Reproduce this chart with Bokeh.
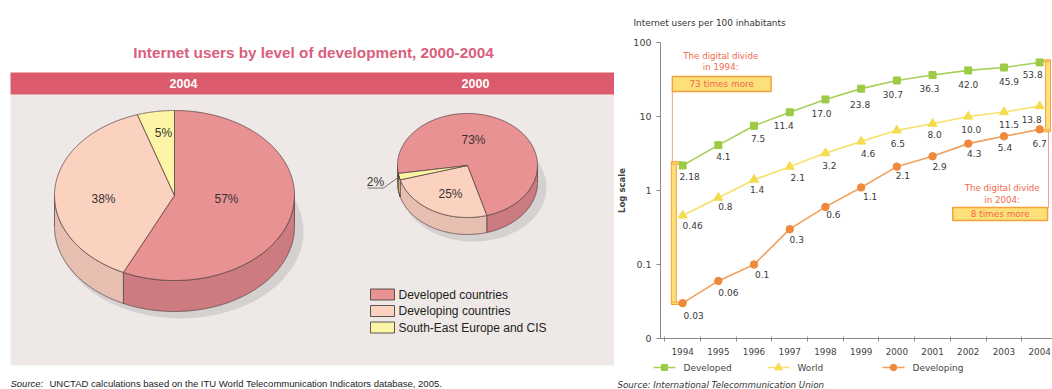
import numpy as np
from bokeh.plotting import figure
from bokeh.models import Range1d, FixedTicker, CustomJSTickFormatter
from bokeh.layouts import row, column
from bokeh.embed import file_html
from bokeh.resources import INLINE
from bokeh.core.properties import value

# ---------------- data ----------------
pie_groups = ["Developed countries", "Developing countries", "South-East Europe and CIS"]
share_2004 = [57, 38, 5]
share_2000 = [73, 25, 2]
pie_years = ["2004", "2000"]

years = list(range(1994, 2005))
developed = [2.18, 4.1, 7.5, 11.4, 17.0, 23.8, 30.7, 36.3, 42.0, 45.9, 53.8]
world = [0.46, 0.8, 1.4, 2.1, 3.2, 4.6, 6.5, 8.0, 10.0, 11.5, 13.8]
developing = [0.03, 0.06, 0.1, 0.3, 0.6, 1.1, 2.1, 2.9, 4.3, 5.4, 6.7]
series_names = ["Developed", "World", "Developing"]
y_ticks = [0.01, 0.1, 1, 10, 100]

# ---------------- styles / layout ----------------
TOP_COL = ["#e99293", "#fbd1bf", "#fbf5a5"]
SIDE_COL = ["#cc7b80", "#e7bfb1", "#e2da8c"]
OUTLINE = "#5b4646"
LFONT = value("Liberation Sans")
RF = "DejaVu Sans"
RFONT = value(RF)

# value-label pixel offsets (position only)
dev_dx = [7, 5, 4, -6, -4, -1, -4, -3, 0, 5, -7]
dev_dy = [11, 11, 13, 13, 14, 16, 14, 13, 14, 14, 12]
wld_dx = [10, 7, 3, 8, 4, 7, 1, 2, 3, 5, -8]
wld_dy = [10, 9, 10, 11, 12, 12, 13, 11, 13, 12, 13]
dvg_dx = [11, 10, 8, 7, 8, 9, 6, 7, 6, 1, 0]
dvg_dy = [12, 12, 10, 10, 8, 9, 9, 10, 10, 11, 14]

W1, H = 614, 389
W2 = 1052 - W1


def blank_fig(w, h):
    f = figure(width=w, height=h, x_range=Range1d(0, w), y_range=Range1d(h, 0),
               output_backend="svg", toolbar_location=None, min_border=0, title=None,
               x_axis_location=None, y_axis_location=None)
    f.grid.visible = False
    f.outline_line_color = None
    f.background_fill_color = "white"
    f.border_fill_color = "white"
    f.frame_align = False
    return f


# ================= left panel =================
p1 = blank_fig(W1, H)
p1.quad(left=[10], right=[W1], top=[94], bottom=[365], fill_color="#eee9e7", line_color=None)
p1.quad(left=[10], right=[W1], top=[72], bottom=[94], fill_color="#db5a6b", line_color=None)
p1.text(x=[313], y=[52], text=["Internet users by level of development, 2000-2004"],
        text_font=LFONT, text_font_style="bold", text_font_size="15.3px",
        text_color="#d9607c", text_align="center", text_baseline="middle")
p1.text(x=[183, 475], y=[83, 83], text=pie_years, text_font=LFONT, text_font_style="bold",
        text_font_size="12.5px", text_color="white", text_align="center", text_baseline="middle")


def draw_pie(p, shares, cx, cy, rx, ry, depth, start):
    total = float(sum(shares))
    angles = start + 360.0 * np.cumsum([0] + list(shares)) / total
    p.ellipse(x=[cx + 6], y=[cy + depth + 5], width=[2 * rx + 6], height=[2 * ry + 4],
              fill_color="#cbc6c6", fill_alpha=0.7, line_color=None)
    sx, sy, sc = [], [], []
    for i in range(len(shares)):
        th = np.linspace(angles[i], angles[i + 1], 1200)
        idx = np.where(np.cos(np.radians(th)) <= 0)[0]
        if len(idx) == 0:
            continue
        for r in np.split(idx, np.where(np.diff(idx) != 1)[0] + 1):
            if len(r) < 2:
                continue
            t = np.radians(th[r])
            xs = cx + rx * np.sin(t)
            ys = cy - ry * np.cos(t)
            sx.append(np.concatenate([xs, xs[::-1]]))
            sy.append(np.concatenate([ys, ys[::-1] + depth]))
            sc.append(SIDE_COL[i])
    p.patches(sx, sy, fill_color=sc, line_color=OUTLINE, line_width=0.8)
    tx, ty = [], []
    for i in range(len(shares)):
        t = np.radians(np.linspace(angles[i], angles[i + 1], 400))
        tx.append(np.concatenate([[cx], cx + rx * np.sin(t), [cx]]))
        ty.append(np.concatenate([[cy], cy - ry * np.cos(t), [cy]]))
    p.patches(tx, ty, fill_color=TOP_COL, line_color=OUTLINE, line_width=0.8)


draw_pie(p1, share_2004, 174, 195, 120, 85, 31, 0.0)
draw_pie(p1, share_2000, 467, 165, 70, 52, 17, 164.0 - 360.0 * share_2000[0] / sum(share_2000))

pct_font = dict(text_font=LFONT, text_font_size="12px", text_color="#3a3232",
                text_align="center", text_baseline="middle")
p1.text(x=[226, 103, 163], y=[198, 198, 132], text=[f"{v}%" for v in share_2004], **pct_font)
p1.text(x=[473, 450], y=[139, 193], text=[f"{v}%" for v in share_2000[:2]], **pct_font)
p1.text(x=[375], y=[181], text=[f"{share_2000[2]}%"], **pct_font)
p1.line(x=[367, 383, 399], y=[187.5, 187.5, 176], line_color="#555", line_width=0.8)

for i, g in enumerate(pie_groups):
    yc = 294 + i * 16.5
    p1.quad(left=[370], right=[394], top=[yc - 5.5], bottom=[yc + 5.5],
            fill_color=TOP_COL[i], line_color="#333", line_width=0.8)
    p1.text(x=[398], y=[yc], text=[g], text_font=LFONT, text_font_size="12px",
            text_color="#222", text_baseline="middle")

p1.text(x=[10], y=[383], text=["Source:"], text_font=LFONT, text_font_style="italic",
        text_font_size="9.5px", text_color="#222", text_baseline="middle")
p1.text(x=[49], y=[383], text=["UNCTAD calculations based on the ITU World Telecommunication Indicators database, 2005."],
        text_font=LFONT, text_font_size="9.5px", text_color="#222", text_baseline="middle")

# ================= right panel =================
TOP_H, BOT_H = 30, 29
FL, BT, BB, FH = 41, 12, 22, 296          # left border, top/bottom borders, frame height
H2 = BT + FH + BB
X0, X1 = 1993.38, 2004.36

p_top = blank_fig(W2, TOP_H)
p_top.text(x=[19], y=[22], text=["Internet users per 100 inhabitants"], text_font=RFONT,
           text_font_size="8.9px", text_color="#333", text_baseline="middle")

p2 = figure(width=W2, height=H2, x_range=Range1d(X0, X1), y_range=Range1d(0.01, 100),
            y_axis_type="log", output_backend="svg", toolbar_location=None, title=None,
            min_border_left=FL, min_border_right=0, min_border_top=BT, min_border_bottom=BB)
p2.grid.visible = False
p2.outline_line_color = None
p2.background_fill_color = "white"
p2.border_fill_color = "white"
p2.frame_align = False

ABS_FL = W1 + FL
ABS_FT = TOP_H + BT


def fx(px):
    return X0 + (px - ABS_FL) * (X1 - X0) / (1052 - ABS_FL)


def fy(py):
    return 10 ** (2 - (py - ABS_FT) * 4.0 / FH)


yax = p2.yaxis[0]
yax.ticker = FixedTicker(ticks=y_ticks, minor_ticks=[])
yax.formatter = CustomJSTickFormatter(code="return tick < 0.05 ? '0' : (tick >= 1 ? tick.toFixed(0) : String(tick));")
yax.axis_label = "Log scale"
yax.axis_label_text_font = RF
yax.axis_label_text_font_style = "bold"
yax.axis_label_text_font_size = "8.5px"
yax.axis_label_text_color = "#444"
yax.axis_label_standoff = 3
yax.major_label_text_font = RF
yax.major_label_text_font_size = "9.5px"
yax.major_label_text_color = "#444"
yax.major_label_standoff = 5
yax.major_tick_out = 4
yax.major_tick_in = 0
yax.axis_line_color = "#8a8a8a"
yax.major_tick_line_color = "#8a8a8a"

xax = p2.xaxis[0]
xax.ticker = FixedTicker(ticks=years, minor_ticks=[y - 0.5 for y in years] + [years[-1] + 0.5])
xax.major_tick_in = 0
xax.major_tick_out = 0
xax.minor_tick_in = 2
xax.minor_tick_out = 3
xax.minor_tick_line_color = "#8a8a8a"
xax.axis_line_color = "#8a8a8a"
xax.major_label_text_font = RF
xax.major_label_text_font_size = "8.8px"
xax.major_label_text_color = "#444"
xax.major_label_standoff = 6

LINE_C = ["#a6d05a", "#f5e26b", "#f0a05a"]
MARK_C = ["#9dcb45", "#f3dc4f", "#ef8a3d"]
MARKERS = ["square", "triangle", "circle"]
MSIZE = [7, 9, 7.5]

ANN = "#f2694d"
BOXF, BOXL = "#fde07a", "#f4a23c"
ann_font = dict(text_font=RFONT, text_color=ANN, text_align="center", text_baseline="middle")
# 1994 divide
p2.segment(x0=[fx(667)], y0=[fy(91)], x1=[fx(667)], y1=[developed[0] * 1.12],
           line_color="#f4a080", line_width=1)
p2.quad(left=[fx(666)], right=[fx(671)], top=[developed[0] * 1.12], bottom=[developing[0] * 0.96],
        fill_color=BOXF, line_color=BOXL, line_width=1)
p2.quad(left=[fx(666), fx(666)], right=[fx(676), fx(676)],
        top=[developed[0] * 1.12, developing[0] * 1.03], bottom=[developed[0] * 1.04, developing[0] * 0.96],
        fill_color=BOXF, line_color=BOXL, line_width=1)
p2.quad(left=[fx(667)], right=[fx(767)], top=[fy(76)], bottom=[fy(91)],
        fill_color=BOXF, line_color=BOXL, line_width=1.5)
p2.text(x=[fx(717)], y=[fy(83.5)], text=["73 times more"], text_font_size="8.9px", **ann_font)
p2.text(x=[fx(716), fx(716)], y=[fy(55), fy(66.5)], text=["The digital divide", "in 1994:"],
        text_font_size="8.7px", **ann_font)
# 2004 divide
p2.segment(x0=[fx(1048)], y0=[developing[-1] * 0.94], x1=[fx(1048)], y1=[fy(207)],
           line_color="#f4a080", line_width=1)
p2.quad(left=[fx(1045)], right=[fx(1050)], top=[developed[-1] * 1.08], bottom=[developing[-1] * 0.93],
        fill_color=BOXF, line_color=BOXL, line_width=1)
p2.quad(left=[fx(1040), fx(1040)], right=[fx(1050), fx(1050)],
        top=[developed[-1] * 1.08, developing[-1] * 0.99], bottom=[developed[-1] * 1.02, developing[-1] * 0.93],
        fill_color=BOXF, line_color=BOXL, line_width=1)
p2.quad(left=[fx(951)], right=[fx(1047)], top=[fy(207)], bottom=[fy(220)],
        fill_color=BOXF, line_color=BOXL, line_width=1.5)
p2.text(x=[fx(999)], y=[fy(213.5)], text=["8 times more"], text_font_size="8.9px", **ann_font)
p2.text(x=[fx(1001), fx(1001)], y=[fy(187), fy(199)], text=["The digital divide", "in 2004:"],
        text_font_size="8.7px", **ann_font)

# series
lab = dict(text_font=RFONT, text_font_size="9px", text_color="#3a3a3a",
           text_align="center", text_baseline="middle")
for vals, dx, dy, lc, mc, mk, ms in zip([developed, world, developing],
                                        [dev_dx, wld_dx, dvg_dx], [dev_dy, wld_dy, dvg_dy],
                                        LINE_C, MARK_C, MARKERS, MSIZE):
    p2.line(years, vals, line_color=lc, line_width=1.6)
    p2.scatter(years, vals, marker=mk, size=ms, fill_color=mc, line_color=mc)
    p2.text(years, vals, text=[f"{v}" for v in vals], x_offset=dx, y_offset=dy, **lab)

# legend + source below
p_bot = blank_fig(W2, BOT_H)
leg_x = [39, 153, 268]   # glyph start (panel pixels)
for i, name in enumerate(series_names):
    x0 = leg_x[i]
    p_bot.line(x=[x0, x0 + 22], y=[7, 7], line_color=LINE_C[i], line_width=1.6)
    p_bot.scatter(x=[x0 + 11], y=[7], marker=MARKERS[i], size=MSIZE[i] - 1,
                  fill_color=MARK_C[i], line_color=MARK_C[i])
    p_bot.text(x=[x0 + 30], y=[7], text=[name], text_font=RFONT, text_font_size="9px",
               text_color="#444", text_baseline="middle")
p_bot.text(x=[3], y=[24], text=["Source: International Telecommunication Union"], text_font=RFONT,
           text_font_style="italic", text_font_size="8.7px", text_color="#333",
           text_baseline="middle")

layout = row(p1, column(p_top, p2, p_bot, spacing=0), spacing=0)
open("out.html", "w").write(file_html(layout, INLINE))
